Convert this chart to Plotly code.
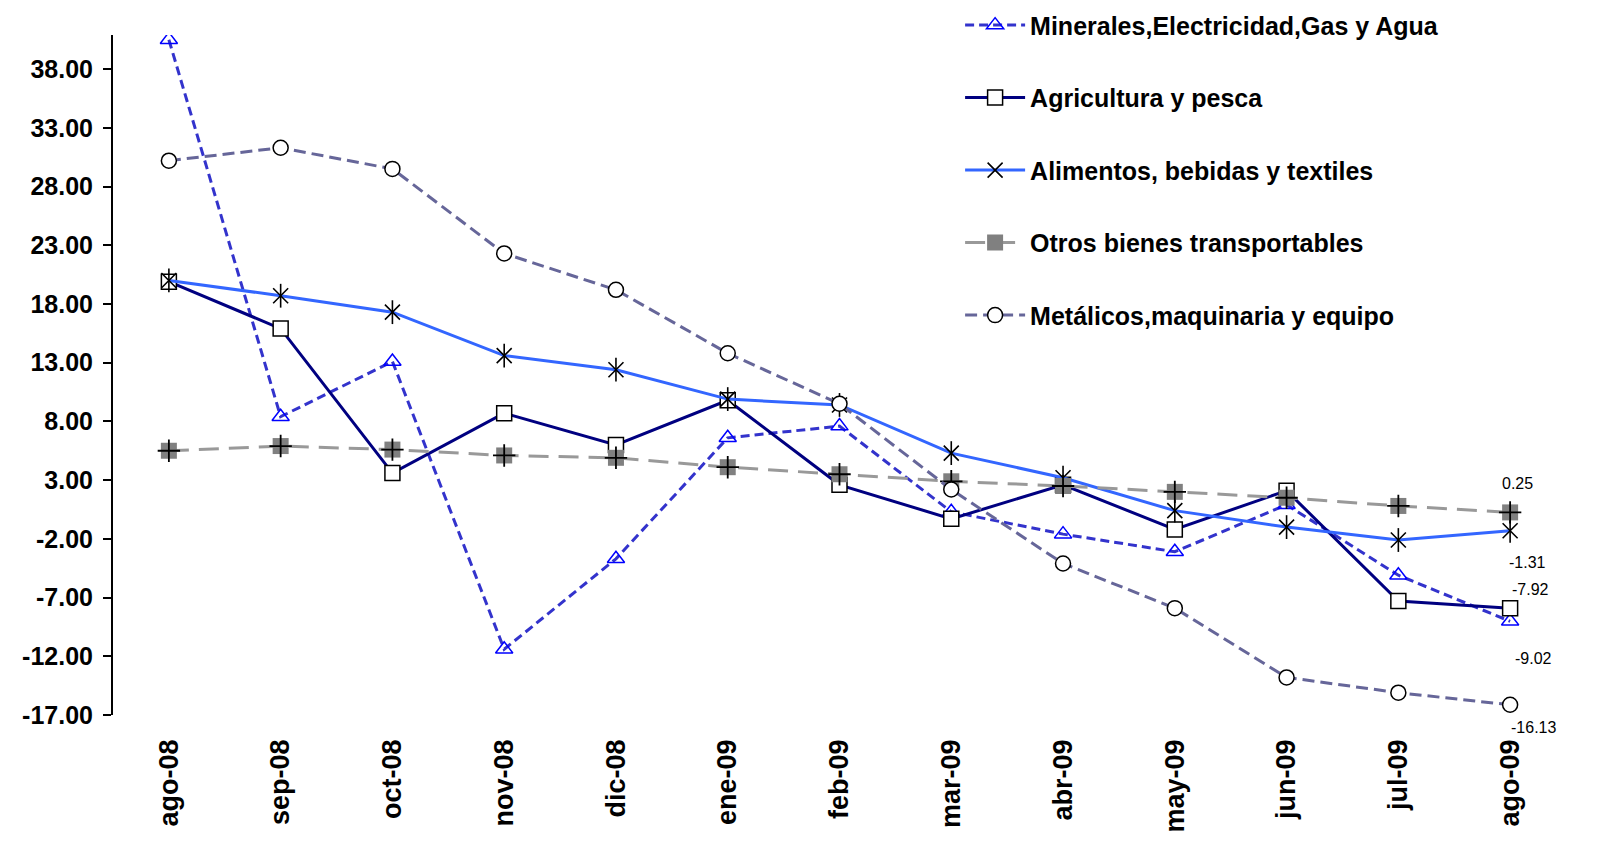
import plotly.graph_objects as go

months = ["ago-08", "sep-08", "oct-08", "nov-08", "dic-08", "ene-09", "feb-09",
          "mar-09", "abr-09", "may-09", "jun-09", "jul-09", "ago-09"]

minerales = [40.5, 8.4, 13.1, -11.4, -3.7, 6.6, 7.6, 0.3, -1.6, -3.1, 0.9, -5.1, -9.02]
agricultura = [19.9, 15.9, 3.6, 8.7, 6.0, 9.8, 2.6, -0.3, 2.6, -1.2, 2.1, -7.3, -7.92]
alimentos = [20.0, 18.7, 17.3, 13.6, 12.4, 9.9, 9.4, 5.3, 3.2, 0.4, -1.0, -2.1, -1.31]
otros = [5.5, 5.9, 5.6, 5.1, 4.9, 4.1, 3.5, 2.9, 2.5, 2.0, 1.5, 0.8, 0.25]
metalicos = [30.2, 31.3, 29.5, 22.3, 19.2, 13.8, 9.5, 2.2, -4.1, -7.9, -13.8, -15.1, -16.13]

ytick_vals = [-17, -12, -7, -2, 3, 8, 13, 18, 23, 28, 33, 38]

FONT = "Liberation Sans, Arial, sans-serif"

fig = go.Figure()

fig.add_trace(go.Scatter(
    x=months, y=minerales, name="Minerales,Electricidad,Gas y Agua",
    mode="lines+markers", legendgroup="g1",
    line=dict(color="#3333CC", width=3, dash="9px,5px"),
    marker=dict(symbol="triangle-up-open", size=15, color="#0000FF", line=dict(width=1.5, color="#0000FF")),
))
fig.add_trace(go.Scatter(
    x=months, y=agricultura, name="Agricultura y pesca",
    mode="lines+markers", legendgroup="g2",
    line=dict(color="#000080", width=3),
    marker=dict(symbol="square", size=15, color="white", line=dict(width=1.5, color="black")),
))
fig.add_trace(go.Scatter(
    x=months, y=alimentos, name="Alimentos, bebidas y textiles",
    mode="lines+markers", legendgroup="g3",
    line=dict(color="#3366FF", width=3),
    marker=dict(symbol="x-thin-open", size=15, color="black", line=dict(width=1.6, color="black")),
))
fig.add_trace(go.Scatter(
    x=months, y=alimentos, name="Alimentos, bebidas y textiles",
    mode="markers", legendgroup="g3", showlegend=False, hoverinfo="skip",
    marker=dict(symbol="line-ns-open", size=17, color="black", line=dict(width=1.6, color="black")),
))
fig.add_trace(go.Scatter(
    x=months, y=otros, name="Otros bienes transportables",
    mode="lines+markers", legendgroup="g4",
    line=dict(color="#999999", width=3, dash="20px,10px"),
    marker=dict(symbol="square", size=16, color="#808080", line=dict(width=0)),
))
fig.add_trace(go.Scatter(
    x=months, y=otros, name="Otros bienes transportables",
    mode="markers", legendgroup="g4", showlegend=False, hoverinfo="skip",
    marker=dict(symbol="cross-thin-open", size=16, color="black", line=dict(width=1.8, color="black")),
))
fig.add_trace(go.Scatter(
    x=months, y=metalicos, name="Metálicos,maquinaria y equipo",
    mode="lines+markers", legendgroup="g5",
    line=dict(color="#666699", width=3, dash="12px,6px"),
    marker=dict(symbol="circle", size=15, color="white", line=dict(width=1.5, color="black")),
))

# data labels for the last point
last = months[-1]
labels = [(otros[-1], 7, 29), (alimentos[-1], 17, -32), (agricultura[-1], 20, 19),
          (minerales[-1], 23, -37), (metalicos[-1], 23, -23)]
for val, xs, ys in labels:
    fig.add_annotation(x=last, y=val, xref="x", yref="y", text=f"{val:.2f}",
                       showarrow=False, xshift=xs, yshift=ys,
                       font=dict(family=FONT, size=16, color="black"))

fig.update_layout(
    width=1624, height=866,
    paper_bgcolor="white", plot_bgcolor="white",
    margin=dict(l=113, r=58, t=35, b=151, autoexpand=False),
    font=dict(family=FONT, color="black"),
    showlegend=True,
    legend=dict(
        x=0.583, y=1.048, xanchor="left", yanchor="top",
        bgcolor="rgba(0,0,0,0)", tracegroupgap=37, itemwidth=60,
        font=dict(family=FONT, size=25, color="black", weight="bold"),
    ),
    xaxis=dict(
        type="category", range=[-0.5, 12.5], showline=False, showgrid=False,
        ticks="", tickangle=-90, zeroline=False, ticklabelstandoff=18,
        tickfont=dict(family=FONT, size=27, color="black", weight="bold"),
    ),
    yaxis=dict(
        range=[-17, 40.9], tickmode="array", tickvals=ytick_vals,
        ticktext=[f"{v:.2f}" for v in ytick_vals],
        showline=True, linecolor="black", linewidth=2, ticks="outside", ticklen=8,
        tickcolor="black", tickwidth=1.5, showgrid=False, zeroline=False,
        ticklabelstandoff=5,
        tickfont=dict(family=FONT, size=25, color="black", weight="bold"),
    ),
)

fig.write_html("out.html", config={"displayModeBar": False},
               post_script="document.body.style.margin='0';document.body.style.overflow='hidden';")
